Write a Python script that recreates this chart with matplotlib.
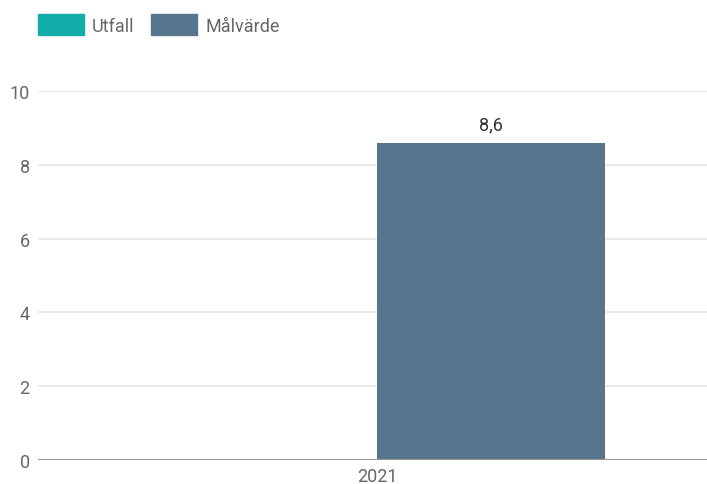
import matplotlib
matplotlib.use("Agg")
from matplotlib import pyplot as plt
from matplotlib.patches import Patch
import numpy as np

plt.rcParams['font.family'] = ['Roboto', 'DejaVu Sans']

# data
years = ["2021"]
utfall = [np.nan]
malvarde = [8.6]
series_names = ["Utfall", "Målvärde"]
colors = ["#12ada8", "#57758c"]

fig = plt.figure(figsize=(7.07, 4.85), dpi=100)
ax = fig.add_axes([38 / 707, 1 - 461 / 485, 1 - 38 / 707, (461 - 92) / 485])

x = np.arange(len(years))
w = 0.34
ax.bar(x - w / 2, utfall, w, color=colors[0])
bars = ax.bar(x + w / 2, malvarde, w, color=colors[1])

for b, v in zip(bars, malvarde):
    ax.text(b.get_x() + b.get_width() / 2, v + 0.25, f"{v:.1f}".replace(".", ","),
            ha="center", va="bottom", fontsize=13, color="#333333")

ax.set_xlim(-0.507, 0.493)
ax.set_ylim(0, 10)
ax.set_yticks([0, 2, 4, 6, 8, 10])
ax.set_xticks(x)
ax.set_xticklabels(years)
ax.tick_params(length=0, labelsize=13, colors="#666666")
ax.tick_params(axis="y", pad=6)
ax.tick_params(axis="x", pad=5)
for s in ax.spines.values():
    s.set_visible(False)
ax.grid(axis="y", color="#e6e6e6", linewidth=1.2)
ax.set_axisbelow(True)
ax.axhline(0, color="#999999", linewidth=1.5)

handles = [Patch(color=c) for c in colors]
fig.legend(handles, series_names, loc="upper left", bbox_to_anchor=(29 / 707, 1 - 6 / 485),
           ncol=2, frameon=False, fontsize=13, labelcolor="#666666", borderpad=0,
           handlelength=2.55, handleheight=1.45, handletextpad=0.45, columnspacing=0.9)

fig.savefig("out.png", dpi=100)
